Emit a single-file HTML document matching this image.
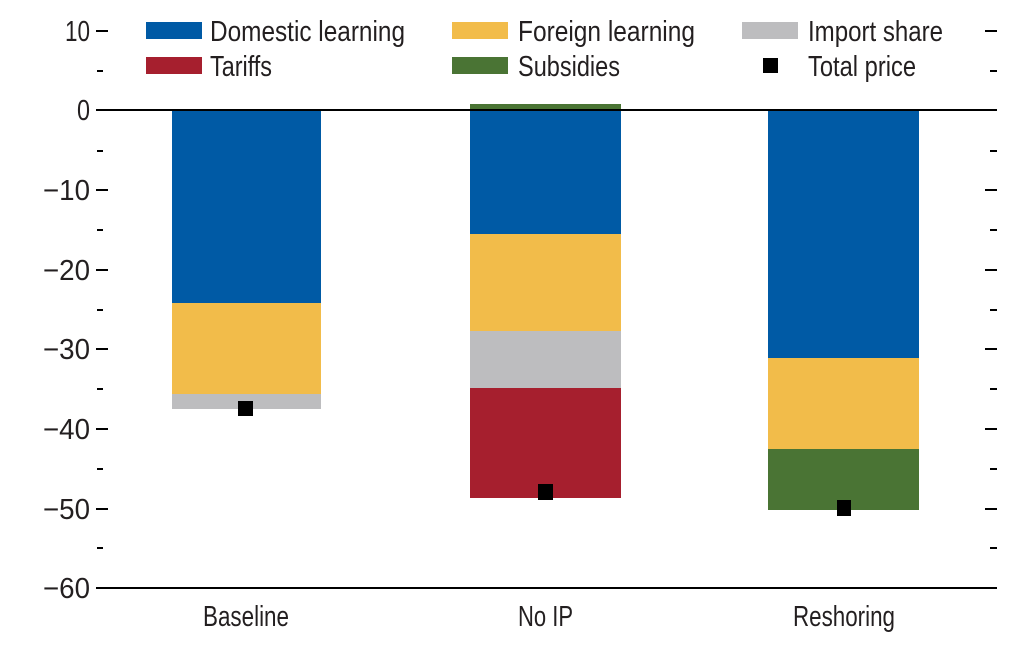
<!DOCTYPE html>
<html><head><meta charset="utf-8"><style>
html,body{margin:0;padding:0;background:#fff;}
svg text{font-family:"Liberation Sans Narrow","Liberation Sans",sans-serif;fill:#231f20;}
</style></head><body>
<svg width="1024" height="661" viewBox="0 0 1024 661" xmlns="http://www.w3.org/2000/svg">
<g font-size="29">
<rect x="146" y="22" width="56" height="17" fill="#005aa5"/>
<text x="210" y="41" textLength="195" lengthAdjust="spacingAndGlyphs">Domestic learning</text>
<rect x="452" y="22" width="56" height="17" fill="#f2bc4a"/>
<text x="518" y="41" textLength="177" lengthAdjust="spacingAndGlyphs">Foreign learning</text>
<rect x="742" y="22" width="56" height="17" fill="#bdbdbf"/>
<text x="808" y="41" textLength="135" lengthAdjust="spacingAndGlyphs">Import share</text>
<rect x="146" y="57" width="56" height="17" fill="#a61f2e"/>
<text x="210" y="76" textLength="62" lengthAdjust="spacingAndGlyphs">Tariffs</text>
<rect x="452" y="57" width="56" height="17" fill="#4a7434"/>
<text x="518" y="76" textLength="102" lengthAdjust="spacingAndGlyphs">Subsidies</text>
<rect x="763" y="58" width="15" height="15" fill="#000"/>
<text x="808" y="76" textLength="108" lengthAdjust="spacingAndGlyphs">Total price</text>
</g>
<rect x="172" y="111" width="149" height="192" fill="#005aa5"/>
<rect x="172" y="303" width="149" height="91" fill="#f2bc4a"/>
<rect x="172" y="394" width="149" height="15" fill="#bdbdbf"/>
<rect x="470" y="104" width="151" height="6" fill="#4a7434"/>
<rect x="470" y="111" width="151" height="123" fill="#005aa5"/>
<rect x="470" y="234" width="151" height="97" fill="#f2bc4a"/>
<rect x="470" y="331" width="151" height="57" fill="#bdbdbf"/>
<rect x="470" y="388" width="151" height="110" fill="#a61f2e"/>
<rect x="768" y="111" width="151" height="247" fill="#005aa5"/>
<rect x="768" y="358" width="151" height="91" fill="#f2bc4a"/>
<rect x="768" y="449" width="151" height="61" fill="#4a7434"/>
<rect x="238" y="401" width="15" height="15" fill="#000"/>
<rect x="538" y="484" width="15" height="16" fill="#000"/>
<rect x="837" y="500" width="14" height="16" fill="#000"/>
<line x1="96" y1="110" x2="997" y2="110" stroke="#000" stroke-width="2"/>
<line x1="96" y1="588" x2="997" y2="588" stroke="#000" stroke-width="2"/>
<g stroke="#000" stroke-width="2">
<line x1="96" y1="31" x2="108" y2="31"/><line x1="985" y1="31" x2="997" y2="31"/>
<line x1="96" y1="190" x2="108" y2="190"/><line x1="985" y1="190" x2="997" y2="190"/>
<line x1="96" y1="270" x2="108" y2="270"/><line x1="985" y1="270" x2="997" y2="270"/>
<line x1="96" y1="349" x2="108" y2="349"/><line x1="985" y1="349" x2="997" y2="349"/>
<line x1="96" y1="429" x2="108" y2="429"/><line x1="985" y1="429" x2="997" y2="429"/>
<line x1="96" y1="509" x2="108" y2="509"/><line x1="985" y1="509" x2="997" y2="509"/>
<line x1="97" y1="71" x2="103" y2="71"/><line x1="990" y1="71" x2="997" y2="71"/>
<line x1="97" y1="151" x2="103" y2="151"/><line x1="990" y1="151" x2="997" y2="151"/>
<line x1="97" y1="230" x2="103" y2="230"/><line x1="990" y1="230" x2="997" y2="230"/>
<line x1="97" y1="310" x2="103" y2="310"/><line x1="990" y1="310" x2="997" y2="310"/>
<line x1="97" y1="389" x2="103" y2="389"/><line x1="990" y1="389" x2="997" y2="389"/>
<line x1="97" y1="469" x2="103" y2="469"/><line x1="990" y1="469" x2="997" y2="469"/>
<line x1="97" y1="548" x2="103" y2="548"/><line x1="990" y1="548" x2="997" y2="548"/>
</g>
<g font-size="29">
<text x="65" y="41" textLength="25" lengthAdjust="spacingAndGlyphs">10</text>
<text x="77" y="120" textLength="13" lengthAdjust="spacingAndGlyphs">0</text>
<text x="43" y="200" textLength="47" lengthAdjust="spacingAndGlyphs">−10</text>
<text x="43" y="280" textLength="47" lengthAdjust="spacingAndGlyphs">−20</text>
<text x="43" y="359" textLength="47" lengthAdjust="spacingAndGlyphs">−30</text>
<text x="43" y="439" textLength="47" lengthAdjust="spacingAndGlyphs">−40</text>
<text x="43" y="519" textLength="47" lengthAdjust="spacingAndGlyphs">−50</text>
<text x="43" y="598" textLength="47" lengthAdjust="spacingAndGlyphs">−60</text>
</g>
<g font-size="29">
<text x="203" y="626" textLength="86" lengthAdjust="spacingAndGlyphs">Baseline</text>
<text x="518" y="626" textLength="55" lengthAdjust="spacingAndGlyphs">No IP</text>
<text x="793" y="626" textLength="102" lengthAdjust="spacingAndGlyphs">Reshoring</text>
</g>
</svg>
</body></html>
